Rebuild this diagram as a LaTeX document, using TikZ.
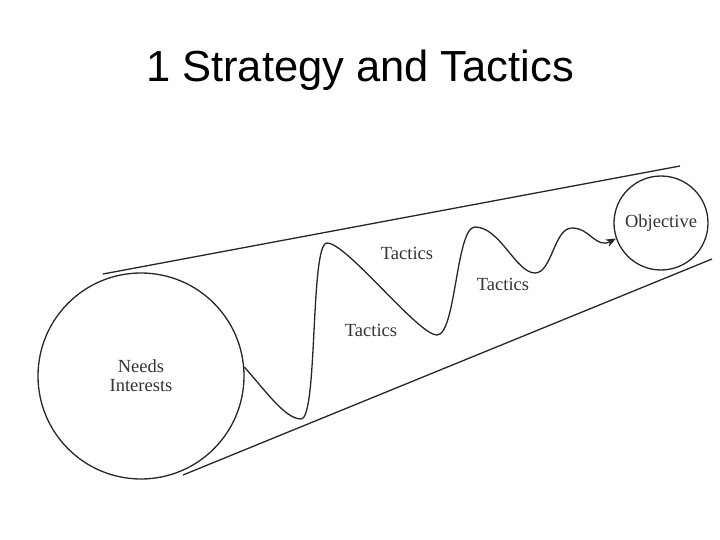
\documentclass[tikz,border=0pt]{standalone}
\usepackage{fontspec}
\setmainfont{Liberation Serif}
\newfontfamily\titlefont{Liberation Sans}
\usetikzlibrary{arrows.meta}

\tikzset{
  goal/.style={draw=black!85,circle,inner sep=0pt,line width=1.3pt,
    text=black!80,font=\fontsize{18.5}{19}\selectfont,align=center},
  tactic/.style={text=black!80,font=\fontsize{18.5}{19}\selectfont,inner sep=0pt},
  edge/.style={black!85,line width=1.3pt}
}

\begin{document}
\begin{tikzpicture}[x=1pt,y=-1pt]
        \useasboundingbox (0,0) rectangle (720,540);
        \node[anchor=base,font=\titlefont\fontsize{43.5}{50}\selectfont] (title) at (360,82) {1 Strategy and Tactics};
        % the two ends
        \node[goal,minimum size=206pt] (needs) at (141,376) {Needs\\Interests};
        \node[goal,minimum size=94pt] (objective) at (661,223) {Objective};
        % walls of the funnel
        \coordinate (topL) at (103,274);
        \coordinate (topR) at (680,166);
        \coordinate (botL) at (183,475);
        \coordinate (botR) at (712,259);
        \draw[edge] (topL) -- (topR);
        \draw[edge] (botL) -- (botR);
        % the winding way
        \draw[edge,-{Stealth[length=10pt,width=8pt,inset=3pt]}] (needs.5)
          .. controls (265,390) and (285,419) .. (301,419)
          .. controls (318,419) and (310,243) .. (327,243)
          .. controls (347,243) and (418,335) .. (437,335)
          .. controls (456,335) and (456,227) .. (475,227)
          .. controls (500,227) and (516,273) .. (535,273)
          .. controls (552,273) and (554,228) .. (572,228)
          .. controls (590,228) and (596,249) .. (objective.199);
        \node[tactic] (tac1) at (407,253) {Tactics};
        \node[tactic] (tac2) at (503,284) {Tactics};
        \node[tactic] (tac3) at (371,330) {Tactics};
\end{tikzpicture}
\end{document}
